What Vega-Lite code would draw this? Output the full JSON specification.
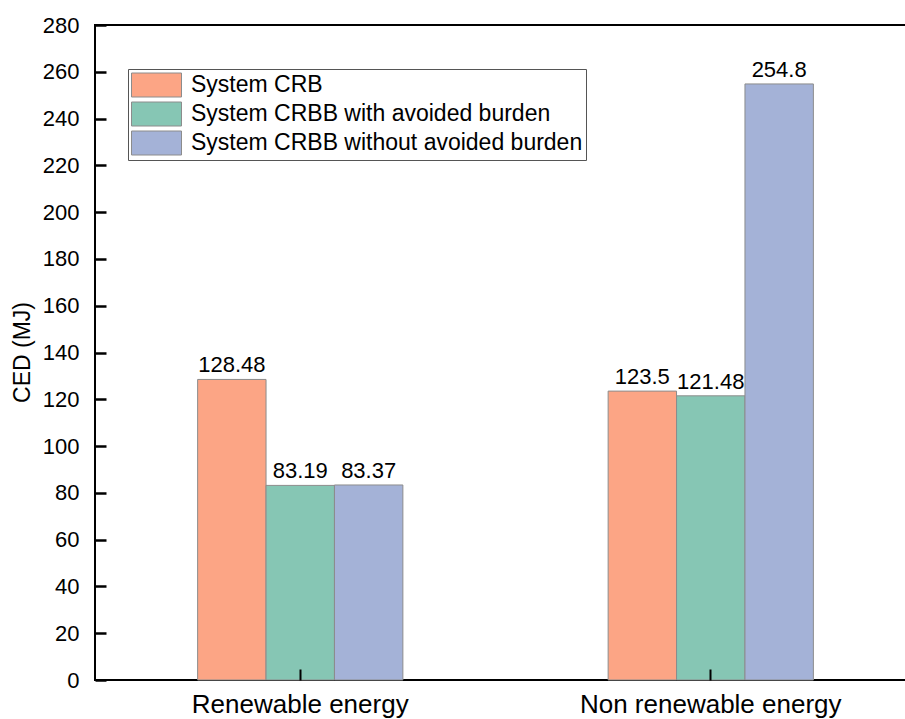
{
  "$schema": "https://vega.github.io/schema/vega-lite/v6.json",
  "width": 815,
  "height": 655,
  "autosize": {"type": "none"},
  "padding": {"left": 95, "top": 25, "right": 0, "bottom": 39},
  "background": "white",
  "config": {
    "font": "Liberation Sans",
    "view": {"stroke": "black", "strokeWidth": 2},
    "axis": {
      "labelColor": "black",
      "titleColor": "black",
      "grid": false
    }
  },
  "data": {
    "values": [
      {"category": "Renewable energy", "system": "System CRB", "value": 128.48},
      {"category": "Renewable energy", "system": "System CRBB with avoided burden", "value": 83.19},
      {"category": "Renewable energy", "system": "System CRBB without avoided burden", "value": 83.37},
      {"category": "Non renewable energy", "system": "System CRB", "value": 123.5},
      {"category": "Non renewable energy", "system": "System CRBB with avoided burden", "value": 121.48},
      {"category": "Non renewable energy", "system": "System CRBB without avoided burden", "value": 254.8}
    ]
  },
  "encoding": {
    "x": {
      "field": "category",
      "type": "nominal",
      "sort": ["Renewable energy", "Non renewable energy"],
      "scale": {"range": [0, 821], "paddingInner": 0.5, "paddingOuter": 0.25},
      "axis": {
        "title": null,
        "labelAngle": 0,
        "labelFontSize": 26,
        "domain": false,
        "offset": -11,
        "ticks": true,
        "tickSize": 11,
        "tickWidth": 2,
        "tickColor": "black",
        "labelPadding": 11,
        "labelLimit": 500,
        "labelBaseline": "top",
        "zindex": 1
      }
    },
    "xOffset": {
      "field": "system",
      "type": "nominal",
      "sort": ["System CRB", "System CRBB with avoided burden", "System CRBB without avoided burden"],
      "scale": {"paddingInner": 0, "paddingOuter": 0}
    },
    "y": {
      "field": "value",
      "type": "quantitative",
      "scale": {"domain": [0, 280], "nice": false},
      "axis": {
        "values": [0, 20, 40, 60, 80, 100, 120, 140, 160, 180, 200, 220, 240, 260, 280],
        "title": "CED (MJ)",
        "titleFontSize": 23,
        "titleFontWeight": "normal",
        "titleX": -84,
        "titleY": 327,
        "titleBaseline": "middle",
        "titleAngle": -90,
        "labelFontSize": 22,
        "domain": false,
        "offset": -11,
        "ticks": true,
        "tickSize": 11,
        "tickWidth": 2.5,
        "tickColor": "black",
        "labelPadding": 16,
        "zindex": 1
      }
    }
  },
  "layer": [
    {
      "mark": {"type": "bar", "stroke": "#8c8c8c", "strokeWidth": 1},
      "encoding": {
        "color": {
          "field": "system",
          "type": "nominal",
          "sort": ["System CRB", "System CRBB with avoided burden", "System CRBB without avoided burden"],
          "scale": {
            "domain": ["System CRB", "System CRBB with avoided burden", "System CRBB without avoided burden"],
            "range": ["#FCA585", "#86C6B4", "#A4B2D7"]
          },
          "legend": {
            "title": null,
            "orient": "none",
            "legendX": 33,
            "legendY": 44,
            "symbolType": "M-1,-0.96H3V0.96H-1Z",
            "symbolSize": 625,
            "symbolStrokeColor": "#8c8c8c",
            "symbolStrokeWidth": 1,
            "symbolOpacity": 1,
            "labelFontSize": 23,
            "labelColor": "black",
            "labelOffset": 34,
            "labelLimit": 600,
            "rowPadding": 1,
            "padding": 3,
            "strokeColor": "#555555",
            "fillColor": "white"
          }
        }
      }
    },
    {
      "mark": {"type": "text", "baseline": "bottom", "dy": -2, "fontSize": 22, "color": "black"},
      "encoding": {
        "text": {"field": "value", "type": "quantitative"}
      }
    }
  ]
}
